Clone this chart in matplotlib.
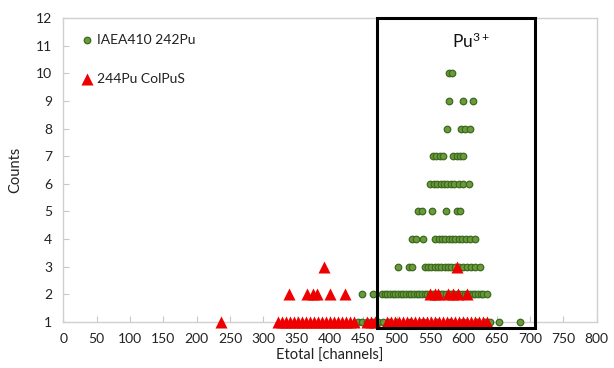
import matplotlib
matplotlib.use("Agg")
import matplotlib.pyplot as plt

plt.rcParams['font.family'] = ['Lato', 'DejaVu Sans']
plt.rcParams['mathtext.default'] = 'regular'

# Green series: IAEA410 242Pu  (x per count level)
green_levels = {
    1: [442, 448, 456, 464, 472, 480, 488, 500, 520, 540, 560, 580, 600, 620, 632, 640, 654, 685],
    2: [448, 465, 478, 482, 486, 490, 494, 498, 502, 506, 510, 514, 518, 522, 526, 530, 534,
        538, 542, 546, 550, 554, 558, 562, 566, 570, 574, 578, 582, 586, 590, 594, 598, 602,
        606, 610, 614, 618, 622, 626, 630, 635],
    3: [502, 518, 523, 542, 547, 552, 557, 562, 567, 572, 577, 582, 587, 594, 600, 606, 612, 618, 625],
    4: [523, 529, 540, 558, 563, 568, 573, 578, 583, 588, 593, 598, 604, 610, 617],
    5: [532, 538, 553, 574, 590, 595],
    6: [550, 556, 561, 566, 571, 576, 581, 586, 593, 600, 609],
    7: [554, 559, 565, 569, 584, 590, 595, 599],
    8: [575, 597, 602, 610],
    9: [578, 599, 614],
    10: [578, 583],
}

# Red series: 244Pu ColPuS
red_levels = {
    1: [236, 322, 328, 334, 340, 346, 352, 358, 364, 370, 376, 382, 388, 394, 400, 406, 412,
        418, 424, 430, 436, 455, 461, 467, 486, 492, 498, 504, 510, 516, 522, 528, 534, 540,
        546, 552, 558, 564, 570, 576, 582, 588, 594, 600, 606, 612, 618, 624, 630, 636],
    2: [338, 365, 375, 381, 400, 422, 550, 557, 562, 577, 584, 592, 605],
    3: [391, 590],
}

green_x, green_y = [], []
for lvl, xs in green_levels.items():
    green_x += xs
    green_y += [lvl] * len(xs)
red_x, red_y = [], []
for lvl, xs in red_levels.items():
    red_x += xs
    red_y += [lvl] * len(xs)

fig = plt.figure(figsize=(6.14, 3.68), dpi=100)
ax = fig.add_axes([0.1033, 0.125, 0.8685, 0.826])

ax.scatter(green_x, green_y, s=22, marker='o', facecolor='#6b9a3c', edgecolor='#3b6a1e',
           linewidths=0.9, zorder=3, clip_on=False)
ax.scatter(red_x, red_y, s=75, marker='^', color='#ee0000', linewidths=0, zorder=4, clip_on=False)

ax.set_xlim(0, 800)
ax.set_ylim(1, 12)
ax.set_xticks(range(0, 801, 50))
ax.set_yticks(range(1, 13))

for s in ax.spines.values():
    s.set_color('#d0d0d0')
    s.set_linewidth(1.0)

ax.tick_params(axis='both', direction='in', colors='#c8c8c8', labelcolor='#222222',
               labelsize=10, length=4)
ax.tick_params(axis='x', pad=8)
ax.tick_params(axis='y', pad=8)

ax.set_xlabel('Etotal [channels]', fontsize=10.5, color='#222222', labelpad=3)
ax.set_ylabel('Counts', fontsize=10.5, color='#222222', labelpad=10)

# Highlight box around Pu3+ region
ax.add_patch(plt.Rectangle((470, 0.78), 237, 11.22, fill=False, edgecolor='black',
                           linewidth=2.2, zorder=5, clip_on=False))
ax.text(612, 11.15, 'Pu$^{3+}$', fontsize=12.5, ha='center', va='center', color='#111111')

# Legend entries
ax.scatter([36], [11.2], s=22, marker='o', facecolor='#6b9a3c', edgecolor='#3b6a1e',
           linewidths=0.9, zorder=3)
ax.text(51, 11.2, 'IAEA410 242Pu', fontsize=10, va='center', color='#222222')
ax.scatter([36], [9.8], s=75, marker='^', color='#ee0000', linewidths=0, zorder=3)
ax.text(51, 9.8, '244Pu ColPuS', fontsize=10, va='center', color='#222222')

fig.savefig('out.png', dpi=100)
